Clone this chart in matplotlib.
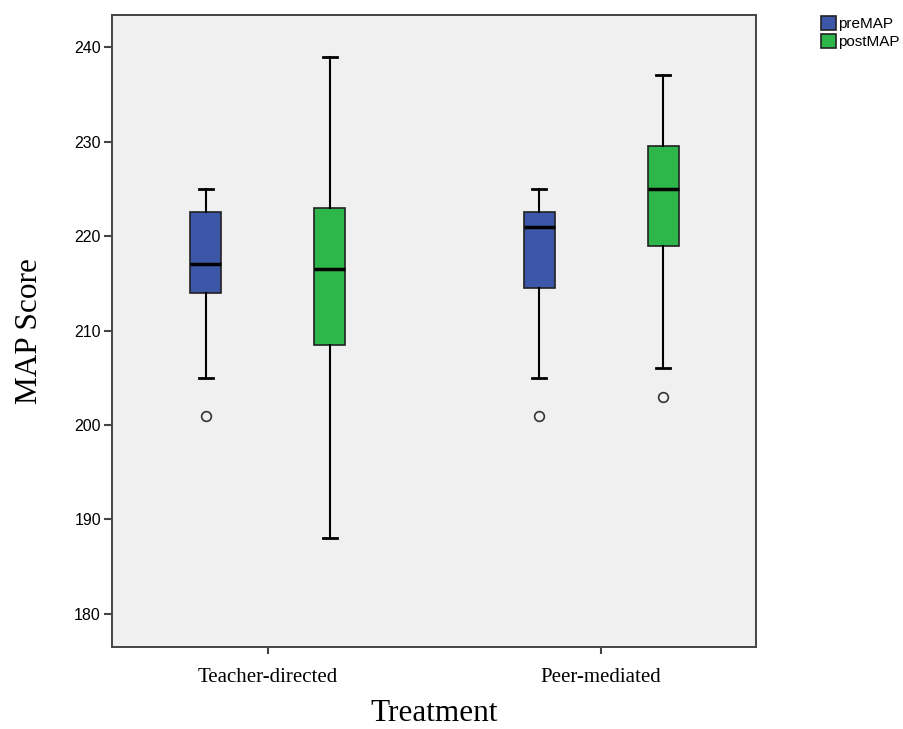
import numpy as np
import matplotlib.pyplot as plt

# Data
groups = ['Teacher-directed', 'Peer-mediated']
series = ['preMAP', 'postMAP']
colors = ['#3d57a8', '#2db74a']

pre_whislo = [205, 205]
pre_q1 = [214, 214.5]
pre_med = [217, 221]
pre_q3 = [222.5, 222.5]
pre_whishi = [225, 225]
pre_fliers = [[201], [201]]

post_whislo = [188, 206]
post_q1 = [208.5, 219]
post_med = [216.5, 225]
post_q3 = [223, 229.5]
post_whishi = [239, 237]
post_fliers = [[], [203]]

yticks = [180, 190, 200, 210, 220, 230, 240]


def make_stats(whislo, q1, med, q3, whishi, fliers):
    out = []
    for i in range(len(med)):
        out.append(dict(whislo=whislo[i], q1=q1[i], med=med[i], q3=q3[i],
                        whishi=whishi[i], fliers=fliers[i]))
    return out


stats = [make_stats(pre_whislo, pre_q1, pre_med, pre_q3, pre_whishi, pre_fliers),
         make_stats(post_whislo, post_q1, post_med, post_q3, post_whishi, post_fliers)]

fig = plt.figure(figsize=(9.04, 7.29), dpi=100)
ax = fig.add_axes([0.1239, 0.1125, 0.7124, 0.8669])
ax.set_facecolor('#f0f0f0')

x = np.arange(len(groups))
offset = 0.186
width = 0.093

handles = []
for k, st in enumerate(stats):
    pos = x + (k - 0.5) * 2 * offset
    bp = ax.bxp(st, positions=pos, widths=width, patch_artist=True,
                capwidths=0.042, manage_ticks=False,
                boxprops=dict(edgecolor='#222222', linewidth=1.2),
                medianprops=dict(color='black', linewidth=2.5),
                whiskerprops=dict(color='black', linewidth=1.5),
                capprops=dict(color='black', linewidth=2),
                flierprops=dict(marker='o', markersize=7, markerfacecolor='none',
                                markeredgecolor='#333333', markeredgewidth=1.2))
    for b in bp['boxes']:
        b.set_facecolor(colors[k])
    handles.append(bp['boxes'][0])

ax.set_xlim(-0.468, 1.465)
ax.set_ylim(176.5, 243.4)
ax.set_xticks(x)
ax.set_xticklabels(groups, family='Liberation Serif', fontsize=15)
ax.set_yticks(yticks)
ax.set_yticklabels([str(t) for t in yticks], family='Liberation Sans', fontsize=11.5)
ax.tick_params(axis='y', length=6, width=1.5, color='#444444', pad=2)
ax.tick_params(axis='x', length=5, width=1.5, color='#444444', pad=10)

for s in ax.spines.values():
    s.set_color('#444444')
    s.set_linewidth(1.4)

ax.set_xlabel('Treatment', family='Liberation Serif', fontsize=22.5, labelpad=9)
ax.set_ylabel('MAP Score', family='Liberation Serif', fontsize=22.5, labelpad=22)

fig.legend(handles, series, loc='upper left', bbox_to_anchor=(0.908, 0.978),
           frameon=False, prop=dict(family='Liberation Sans', size=11),
           handlelength=1.0, handleheight=1.0, handletextpad=0.15,
           labelspacing=0.2, borderaxespad=0, borderpad=0)

fig.savefig('out.png', dpi=100)
